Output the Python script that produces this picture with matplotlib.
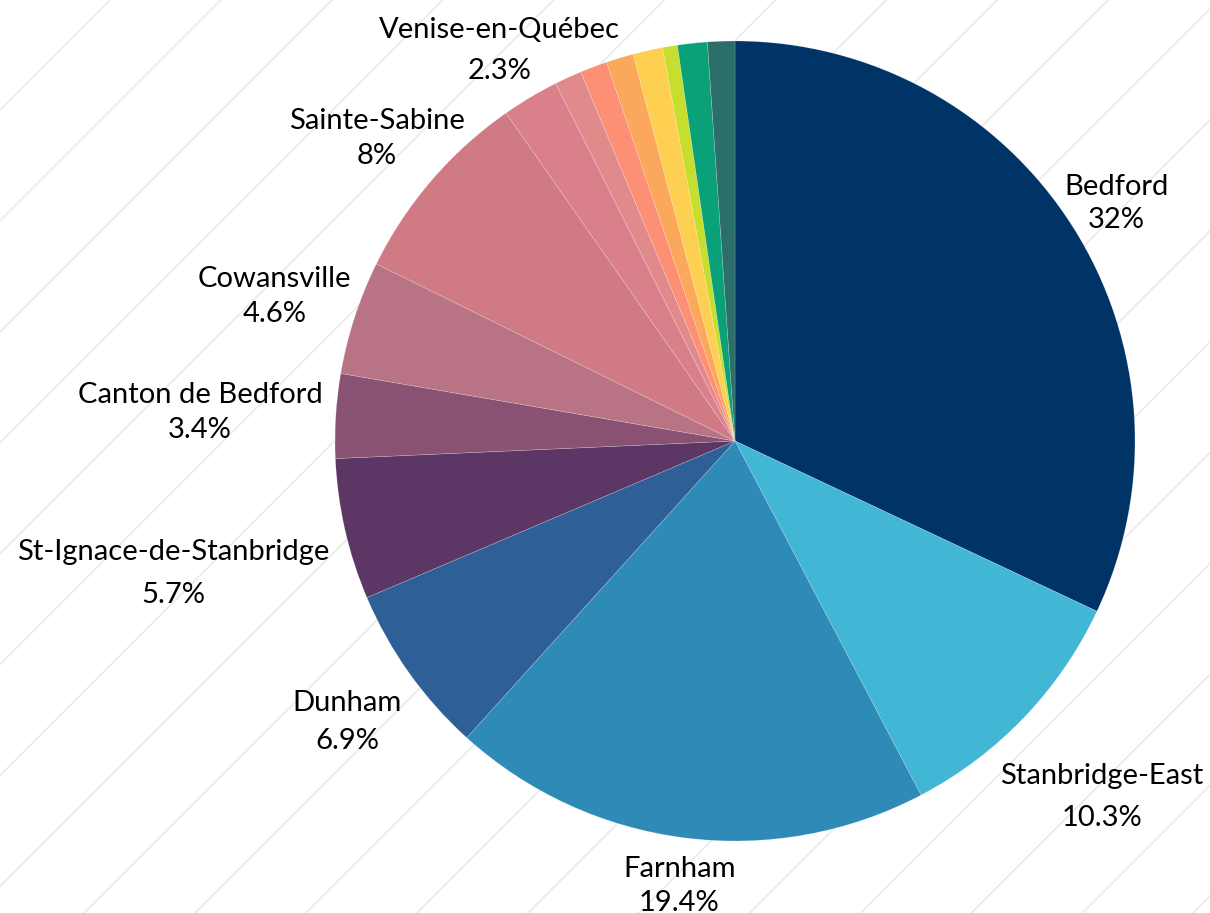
import numpy as np
import matplotlib
matplotlib.use("Agg")
import matplotlib.pyplot as plt

# ---- data ----
names = ["Bedford", "Stanbridge-East", "Farnham", "Dunham", "St-Ignace-de-Stanbridge",
         "Canton de Bedford", "Cowansville", "Sainte-Sabine", "Venise-en-Québec",
         "", "", "", "", "", "", ""]
values = [32, 10.3, 19.4, 6.9, 5.7, 3.4, 4.6, 8, 2.3, 1.1, 1.1, 1.1, 1.2, 0.6, 1.2, 1.1]
pct_labels = ["32%", "10.3%", "19.4%", "6.9%", "5.7%", "3.4%", "4.6%", "8%", "2.3%",
              "", "", "", "", "", "", ""]
colors = ["#003366", "#42b7d5", "#2e8bb8", "#2e5f96", "#5c3766", "#8a5272", "#b87385",
          "#cf7a85", "#d9808a", "#e08a8c", "#fd8f74", "#fca85c", "#fdd052", "#c8de2e",
          "#0aa078", "#2b6e6a"]
# label placement: radial distance (fraction of radius) and gap between the two lines (px)
label_dist = [1.13, 1.27, 1.11, 1.19, 1.44, 1.34, 1.21, 1.18, 1.15]
line_gap = [33, 42, 34, 38, 43, 35, 35, 35, 41]

W, H = 1210, 913
fig = plt.figure(figsize=(W / 100, H / 100), dpi=100)
ax = fig.add_axes([0, 0, 1, 1])

# background diagonal stripes
spacing = 110.9
for k in range(-2, 40):
    c = 110 + k * spacing  # x + y_img = c
    xs = np.array([c - H - 50, c + 50])
    yimg = c - xs
    ax.plot(xs, H - yimg, color="#ececec", lw=1.3, zorder=0)

cx, cy, R = 735, H - 441, 400
wedges, _ = ax.pie(values, colors=colors, startangle=90, counterclock=False,
                   radius=R, center=(cx, cy), frame=True,
                   wedgeprops=dict(edgecolor=(1, 1, 1, 0.3), linewidth=0.4))
ax.set_xlim(0, W)
ax.set_ylim(0, H)
ax.set_aspect("equal")
ax.axis("off")

font = "Lato"
for i, w in enumerate(wedges[:len(label_dist)]):
    th = np.deg2rad((w.theta1 + w.theta2) / 2)
    d = label_dist[i] * R
    x = cx + d * np.cos(th)
    y = cy + d * np.sin(th) - 5
    g = line_gap[i] / 2
    kw = dict(ha="center", va="center", fontsize=21, family=font,
              fontweight="normal", color="#000000", zorder=5)
    ax.text(x, y + g, names[i], **kw)
    ax.text(x, y - g, pct_labels[i], **kw)

fig.savefig("out.png", dpi=100)
